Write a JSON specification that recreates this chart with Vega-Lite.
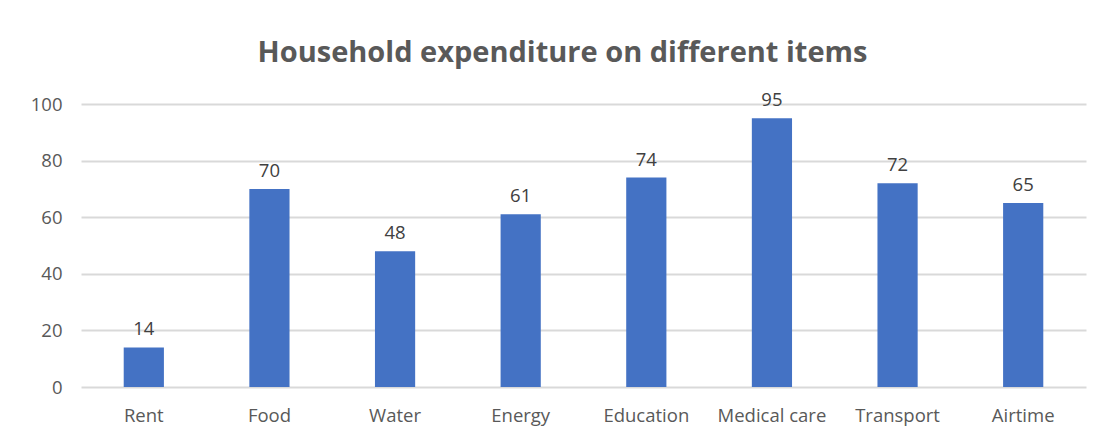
{
  "$schema": "https://vega.github.io/schema/vega-lite/v6.json",
  "width": 1005,
  "height": 283,
  "autosize": {"type": "none"},
  "padding": {"left": 81, "top": 104, "right": 16, "bottom": 53},
  "background": "white",
  "title": {
    "text": "Household expenditure on different items",
    "font": "Open Sans",
    "fontSize": 29,
    "fontWeight": "bold",
    "color": "#595959",
    "anchor": "middle",
    "dx": -21,
    "offset": 23
  },
  "data": {
    "values": [
      {"item": "Rent", "value": 14},
      {"item": "Food", "value": 70},
      {"item": "Water", "value": 48},
      {"item": "Energy", "value": 61},
      {"item": "Education", "value": 74},
      {"item": "Medical care", "value": 95},
      {"item": "Transport", "value": 72},
      {"item": "Airtime", "value": 65}
    ]
  },
  "encoding": {
    "x": {
      "field": "item",
      "type": "nominal",
      "sort": null,
      "scale": {"paddingInner": 0.68, "paddingOuter": 0.34},
      "axis": {
        "title": null,
        "labelAngle": 0,
        "labelFont": "Open Sans",
        "labelFontSize": 18.5,
        "labelColor": "#595959",
        "labelPadding": 19,
        "ticks": false,
        "domain": false,
        "grid": false
      }
    },
    "y": {
      "field": "value",
      "type": "quantitative",
      "scale": {"domain": [0, 100]},
      "axis": {
        "title": null,
        "values": [0, 20, 40, 60, 80, 100],
        "labelFont": "Open Sans",
        "labelFontSize": 18.5,
        "labelColor": "#595959",
        "labelPadding": 19,
        "ticks": false,
        "domain": false,
        "gridColor": "#d9d9d9",
        "gridWidth": 2
      }
    }
  },
  "layer": [
    {"mark": {"type": "bar", "color": "#4472C4"}},
    {
      "mark": {"type": "text", "baseline": "alphabetic", "dy": -12, "font": "Open Sans", "fontSize": 18.5, "color": "#404040"},
      "encoding": {"text": {"field": "value", "type": "quantitative"}}
    }
  ],
  "config": {"view": {"stroke": null}}
}
